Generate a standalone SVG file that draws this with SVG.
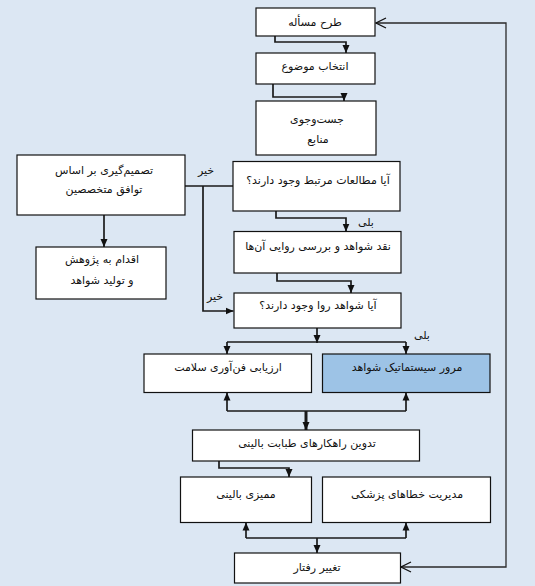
<svg xmlns="http://www.w3.org/2000/svg" width="535" height="586" viewBox="0 0 535 586">
<defs>
<style>
.bg{fill:#dce7f3}
.box{fill:#ffffff;stroke:#111;stroke-width:1.2}
.blue{fill:#9dc3e6}
.t{font-family:"DejaVu Sans",sans-serif;font-size:11px;fill:#111;text-anchor:middle;direction:rtl;unicode-bidi:embed}
.lbl{font-family:"DejaVu Sans",sans-serif;font-size:11px;fill:#111;text-anchor:middle;direction:rtl;unicode-bidi:embed}
.c{fill:none;stroke:#1a1a1a;stroke-width:1.7}
.thick{stroke-width:3}
.loop{fill:none;stroke:#2a2a2a;stroke-width:1.3}
</style>
<marker id="ah" viewBox="0 0 8 8" refX="8" refY="4" markerWidth="8" markerHeight="8" markerUnits="userSpaceOnUse" orient="auto-start-reverse">
<path d="M0,0.5 L8,4 L0,7.5 Z" fill="#111"/>
</marker>
<marker id="oh" viewBox="0 0 12 12" refX="11" refY="6" markerWidth="12" markerHeight="12" markerUnits="userSpaceOnUse" orient="auto-start-reverse">
<path d="M1,1 L11,6 L1,11" fill="none" stroke="#111" stroke-width="1.3"/>
</marker>
</defs>
<rect class="bg" x="0" y="0" width="535" height="586"/>

<g id="connectors">
<path class="loop" d="M376,23 H506 V567 H401" marker-start="url(#oh)" marker-end="url(#oh)"/>
<path class="c" d="M275,36 V42 H346 V53" marker-end="url(#ah)"/>
<path class="c" d="M273,84 V97 H344 V101" marker-end="url(#ah)"/>
<path class="c" d="M276,211 V218 H346 V231.5" marker-end="url(#ah)"/>
<path class="c" d="M277,273 V281 H351 V293" marker-end="url(#ah)"/>
<path class="c" d="M233,186 H185"/>
<path class="c" d="M203,186 V311 H233.5" marker-end="url(#ah)"/>
<path class="c" d="M104,215 V247" marker-end="url(#ah)"/>
<path class="c" d="M317,328 V343" marker-end="url(#ah)"/>
<path class="c" d="M227,342 H406"/>
<path class="c" d="M227,342 V354" marker-end="url(#ah)"/>
<path class="c" d="M406,342 V354" marker-end="url(#ah)"/>
<path class="c" d="M227,411 H406"/>
<path class="c" d="M227,411 V392.5" marker-end="url(#ah)"/>
<path class="c" d="M406,411 V392.5" marker-end="url(#ah)"/>
<path class="c thick" d="M306,411 V430" marker-end="url(#ah)"/>
<path class="c" d="M219,461 V468 H289 V477" marker-end="url(#ah)"/>
<path class="c" d="M246,538 H406"/>
<path class="c" d="M246,538 V522.5" marker-end="url(#ah)"/>
<path class="c" d="M406,538 V522.5" marker-end="url(#ah)"/>
<path class="c" d="M317,538 V553" marker-end="url(#ah)"/>
<text class="lbl" x="206" y="174">خیر</text>
<text class="lbl" x="215" y="300">خیر</text>
<text class="lbl" x="366" y="226">بلی</text>
<text class="lbl" x="422" y="339">بلی</text>
</g>

<g id="n1"><rect class="box" x="256" y="8" width="119" height="28"/><text class="t" x="315" y="26">طرح مسأله</text></g>
<g id="n2"><rect class="box" x="256" y="53" width="119" height="31"/><text class="t" x="315" y="70">انتخاب موضوع</text></g>
<g id="n3"><rect class="box" x="256" y="101" width="120" height="54"/><text class="t" x="317" y="123">جست‌وجوی</text><text class="t" x="318" y="143">منابع</text></g>
<g id="n4"><rect class="box" x="17" y="155" width="168" height="60"/><text class="t" x="104" y="174">تصمیم‌گیری بر اساس</text><text class="t" x="104" y="193">توافق متخصصین</text></g>
<g id="n5"><rect class="box" x="233" y="161.5" width="167" height="49.5"/><text class="t" x="318" y="184">آیا مطالعات مرتبط وجود دارند؟</text></g>
<g id="n6"><rect class="box" x="36" y="247" width="130" height="52"/><text class="t" x="102" y="263">اقدام به پژوهش</text><text class="t" x="102" y="284">و تولید شواهد</text></g>
<g id="n7"><rect class="box" x="234" y="231.5" width="167" height="41.5"/><text class="t" x="318" y="250">نقد شواهد و بررسی روایی آن‌ها</text></g>
<g id="n8"><rect class="box" x="234" y="293" width="167" height="35"/><text class="t" x="318" y="309">آیا شواهد روا وجود دارند؟</text></g>
<g id="n9"><rect class="box" x="144" y="354" width="167.5" height="38.5"/><text class="t" x="228" y="371">ارزیابی فن‌آوری سلامت</text></g>
<g id="n10"><rect class="box blue" x="322.5" y="354" width="167.5" height="38.5"/><text class="t" x="407" y="371">مرور سیستماتیک شواهد</text></g>
<g id="n11"><rect class="box" x="192.5" y="430" width="227" height="31"/><text class="t" x="307" y="447">تدوین راهکارهای طبابت بالینی</text></g>
<g id="n12"><rect class="box" x="180.5" y="477" width="131" height="45.5"/><text class="t" x="246" y="498">ممیزی بالینی</text></g>
<g id="n13"><rect class="box" x="322.5" y="477" width="168" height="45.5"/><text class="t" x="407" y="498">مدیریت خطاهای پزشکی</text></g>
<g id="n14"><rect class="box" x="234.5" y="553" width="166" height="30"/><text class="t" x="317" y="571">تغییر رفتار</text></g>
</svg>
